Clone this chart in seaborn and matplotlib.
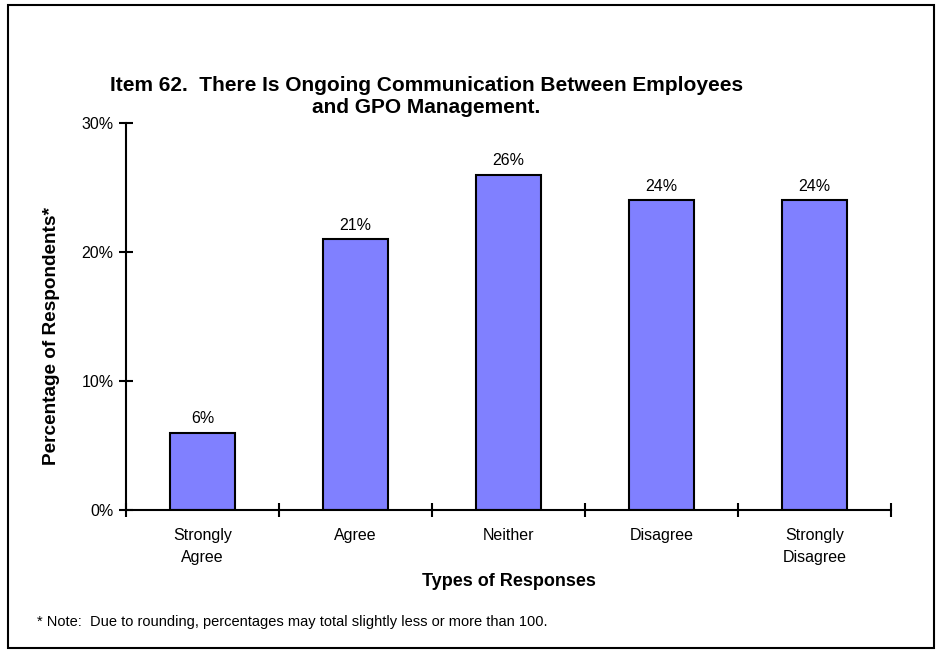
import pandas as pd
import matplotlib.pyplot as plt
import seaborn as sns
from matplotlib.patches import Rectangle

# data
categories = ["Strongly\nAgree", "Agree", "Neither", "Disagree", "Strongly\nDisagree"]
percents = [6, 21, 26, 24, 24]
yticks = [0, 10, 20, 30]
ytick_labels = ["0%", "10%", "20%", "30%"]

df = pd.DataFrame({"response": categories, "pct": percents})

sns.set_style("white")
plt.rcParams['font.family'] = ['Liberation Sans', 'DejaVu Sans']
plt.rcParams['text.color'] = 'black'
plt.rcParams['axes.labelcolor'] = 'black'
plt.rcParams['xtick.color'] = 'black'
plt.rcParams['ytick.color'] = 'black'

fig = plt.figure(figsize=(9.37, 6.51), dpi=100)
ax = fig.add_axes([0.1345, 0.2166, 0.8164, 0.5945])

sns.barplot(data=df, x="response", y="pct", color="#8080FF", saturation=1,
            width=0.42, edgecolor="black", linewidth=1.5, ax=ax)

# value labels on top of bars
for i, v in enumerate(percents):
    ax.text(i, v + 0.5, f"{v}%", ha="center", va="bottom", fontsize=11.5)

ax.set_ylim(0, 30)
ax.set_xlim(-0.5, len(categories) - 0.5)
ax.set_yticks(yticks)
ax.set_yticklabels(ytick_labels, fontsize=11.5)
ax.set_xticks(range(len(categories)))
ax.set_xticklabels(categories, fontsize=11.5, linespacing=1.55)
ax.tick_params(axis="x", which="major", bottom=False, length=0, pad=13)
ax.set_xticks([i - 0.5 for i in range(len(categories) + 1)], minor=True)
ax.tick_params(axis="x", which="minor", bottom=True, direction="inout", length=10, width=1.5)
ax.tick_params(axis="y", left=True, direction="inout", length=10, width=1.5, pad=4)

for s in ["top", "right"]:
    ax.spines[s].set_visible(False)
for s in ["left", "bottom"]:
    ax.spines[s].set_linewidth(1.5)
    ax.spines[s].set_color("black")

ax.set_xlabel("Types of Responses", fontsize=13, fontweight="bold", labelpad=6)
ax.set_ylabel("Percentage of Respondents*", fontsize=13.7, fontweight="bold")
ax.yaxis.set_label_coords(-0.086, 0.45)

fig.text(0.455, 0.852, "Item 62.  There Is Ongoing Communication Between Employees\nand GPO Management.",
         ha="center", va="center", fontsize=15, fontweight="bold", linespacing=1.2)
fig.text(0.04, 0.045, "* Note:  Due to rounding, percentages may total slightly less or more than 100.",
         ha="left", va="center", fontsize=10.5)

# border around whole figure
fig.patches.append(Rectangle((0.009, 0.005), 0.988, 0.987, transform=fig.transFigure,
                             fill=False, edgecolor="black", linewidth=1.5))

plt.savefig("out.png", dpi=100)
